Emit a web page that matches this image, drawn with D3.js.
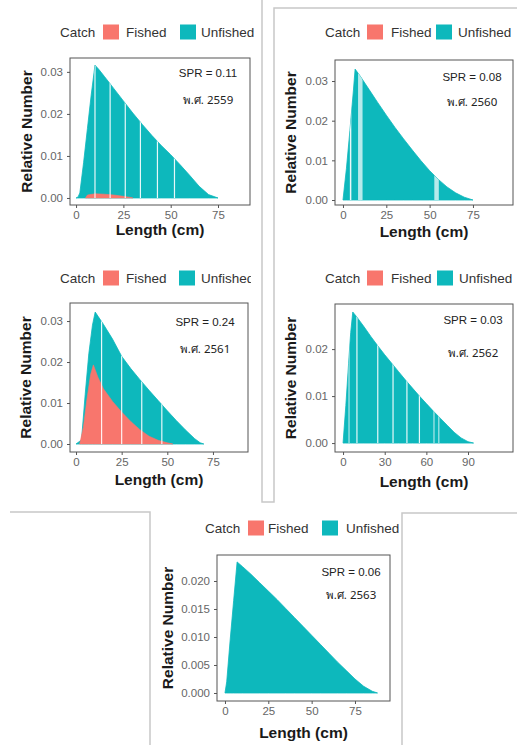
<!DOCTYPE html>
<html>
<head>
<meta charset="utf-8">
<script src="https://cdn.jsdelivr.net/npm/d3@7"></script>
<style>
  body { margin: 0; background: #fff; }
  svg { font-family: "Liberation Sans", Arial, sans-serif; }
</style>
</head>
<body>
<svg id="chart" width="517" height="745"></svg>
<script>
// values: [length (cm), relative number]
const unfished2559 = [[0,0],[1,0.0002],[2,0.0012],[4,0.0085],[6,0.0165],[8,0.0245],[10,0.0316],[12,0.0306],[15,0.0289],[20,0.026],[25,0.0231],[30,0.0202],[35,0.0175],[40,0.0149],[45,0.0125],[50,0.0103],[55,0.0079],[60,0.0054],[65,0.0028],[70,0.0008],[75,0]]
const fished2559 = [[5,0],[6,0.0007],[10,0.001],[15,0.0009],[20,0.0007],[25,0.0004],[28,0.0002],[30,0]]

const unfished2560 = [[0,0],[2,0.008],[4,0.0175],[6,0.0275],[7,0.033],[10,0.0312],[15,0.0279],[20,0.0246],[25,0.0214],[30,0.0183],[35,0.0154],[40,0.0126],[45,0.0099],[50,0.0074],[55,0.0052],[60,0.0033],[65,0.0018],[70,0.0007],[75,0]]
const fished2560 = []

const unfished2561 = [[0,0],[3,0.001],[5,0.012],[7,0.022],[9,0.029],[10.5,0.0322],[12,0.0312],[15,0.0292],[20,0.0256],[25,0.0214],[30,0.0184],[35,0.0157],[40,0.0131],[45,0.0106],[50,0.0081],[55,0.0057],[60,0.0034],[65,0.0013],[68,0.0003],[70,0]]
const fished2561 = [[2,0],[4,0.004],[6,0.011],[8,0.017],[9.5,0.0193],[12,0.0163],[15,0.0135],[20,0.0104],[25,0.0078],[30,0.0055],[35,0.0035],[40,0.0019],[45,0.0009],[50,0.0003],[53,0]]

const unfished2562 = [[0,0],[2,0.008],[4,0.017],[5.5,0.0235],[7,0.0279],[10,0.0268],[15,0.0248],[20,0.0227],[25,0.0207],[30,0.0188],[35,0.017],[40,0.0152],[45,0.0134],[50,0.0117],[55,0.01],[60,0.0084],[65,0.0068],[70,0.0053],[75,0.0038],[80,0.0023],[85,0.0011],[90,0.0003],[94,0]]
const fished2562 = []

const unfished2563 = [[0,0],[1,0.002],[3,0.0095],[5,0.0165],[7,0.0234],[10,0.0226],[15,0.0212],[20,0.0197],[25,0.0182],[30,0.0167],[35,0.0151],[40,0.0135],[45,0.0119],[50,0.0103],[55,0.0087],[60,0.0071],[65,0.0055],[70,0.004],[75,0.0025],[80,0.0012],[85,0.0003],[88,0]]
const fished2563 = []

const years = ["2559", "2560", "2561", "2562", "2563"]
const sprValues = ["0.11", "0.08", "0.24", "0.03", "0.06"]
const legendLabels = ["Fished", "Unfished"]

const xTicks = [[0,25,50,75],[0,25,50,75],[0,25,50,75],[0,30,60,90],[0,25,50,75]]
const yTicks = [[0,0.01,0.02,0.03],[0,0.01,0.02,0.03],[0,0.01,0.02,0.03],[0,0.01,0.02],[0,0.005,0.01,0.015,0.02]]

const series = [
  [unfished2559, fished2559],
  [unfished2560, fished2560],
  [unfished2561, fished2561],
  [unfished2562, fished2562],
  [unfished2563, fished2563]
]

const RED = "#F8766D", TEAL = "#0DB8BC"

// layout of each little ggplot image in the collage
const layout = [
  {left:70, right:250, top:58, bottom:205, xd:[-3.2,91.9], yd:[-0.00167,0.0333], fmt:".2f",
   leg:[60,103,126,180,201], legY:32, clipR:256, ytX:32, xtY:235, sprX:208, sprY:[77,104],
   seams:[[10,1.2,0.9],[18,1.2,0.9],[26,1.2,0.9],[34,1.2,0.9],[43,1.2,0.9],[52,1.2,0.9]]},
  {left:335, right:513, top:60, bottom:205, xd:[-4.6,98.1], yd:[-0.00126,0.0353], fmt:".2f",
   leg:[325,367,391,436,458], legY:32, clipR:517, ytX:296, xtY:237, sprX:472, sprY:[81,106],
   seams:[[4.4,1.5,0.9],[10,4.5,0.7],[54,4.5,0.7]]},
  {left:70, right:248, top:303, bottom:452, xd:[-3.3,94.2], yd:[-0.00195,0.0344], fmt:".2f",
   leg:[60,103,126,179,201], legY:278, clipR:251, ytX:31, xtY:485, sprX:205, sprY:[326,353],
   seams:[[14,1.2,0.9],[25,1.2,0.9],[36,1.2,0.9],[47,1.2,0.9]]},
  {left:335, right:513, top:304, bottom:452, xd:[-5.8,122.4], yd:[-0.0019,0.0296], fmt:".2f",
   leg:[325,367,391,437,459], legY:278, clipR:517, ytX:296, xtY:487, sprX:473, sprY:[324,357],
   seams:[[4.3,1,0.8],[10,1.2,0.9],[25,1.2,0.9],[36,1.2,0.9],[46,1.2,0.9],[55,1.2,0.9],[65.5,1,0.8],[69,1,0.8]]},
  {left:217, right:390, top:555, bottom:701, xd:[-4.6,95.2], yd:[-0.00143,0.02464], fmt:".3f",
   leg:[205,248,268,322,346], legY:528, clipR:400, ytX:173, xtY:738, sprX:351, sprY:[576,599],
   seams:[]}
]

const svg = d3.select("#chart")
const defs = svg.append("defs")

// frame lines of the collage
const frame = [
  [[262,0],[262,502],[274,502],[274,8],[517,8]],
  [[10,512],[150,512],[150,745]],
  [[517,513],[402,513],[402,745]]
]
svg.selectAll("path.frame").data(frame).enter().append("path")
  .attr("class", "frame")
  .attr("d", d => d3.line()(d))
  .attr("fill", "none")
  .attr("stroke", "#c8c8c8")
  .attr("stroke-width", 1.5)

layout.forEach((p, i) => {
  const g = svg.append("g")
  const x = d3.scaleLinear().domain(p.xd).range([p.left, p.right])
  const y = d3.scaleLinear().domain(p.yd).range([p.bottom, p.top])
  const area = d3.area().x(d => x(d[0])).y0(y(0)).y1(d => y(d[1]))
  const [unf, fis] = series[i]

  // clip for seams: the unfished area
  defs.append("clipPath").attr("id", "area" + i)
    .append("path").attr("d", area(unf))

  g.append("path").attr("d", area(unf))
    .attr("fill", TEAL).attr("stroke", TEAL).attr("stroke-width", 0.8)
  if (fis.length)
    g.append("path").attr("d", area(fis))
      .attr("fill", RED).attr("stroke", RED).attr("stroke-width", 0.6)

  g.append("g").attr("clip-path", `url(#area${i})`)
    .selectAll("line").data(p.seams).enter().append("line")
    .attr("x1", d => x(d[0])).attr("x2", d => x(d[0]))
    .attr("y1", p.top).attr("y2", p.bottom)
    .attr("stroke", "#fff")
    .attr("stroke-width", d => d[1])
    .attr("stroke-opacity", d => d[2])

  // panel border
  g.append("rect")
    .attr("x", p.left).attr("y", p.top)
    .attr("width", p.right - p.left).attr("height", p.bottom - p.top)
    .attr("fill", "none").attr("stroke", "#555").attr("stroke-width", 1)

  // axes
  const ya = g.append("g").attr("transform", `translate(${p.left},0)`)
    .call(d3.axisLeft(y).tickValues(yTicks[i]).tickFormat(d3.format(p.fmt)).tickSize(3).tickPadding(4))
  const xa = g.append("g").attr("transform", `translate(0,${p.bottom})`)
    .call(d3.axisBottom(x).tickValues(xTicks[i]).tickFormat(d3.format("d")).tickSize(3).tickPadding(3))
  for (const a of [ya, xa]) {
    a.select(".domain").remove()
    a.selectAll(".tick line").attr("stroke", "#555")
    a.selectAll("text").attr("fill", "#666").attr("font-size", 11.5)
      .attr("font-family", "'Liberation Sans', Arial, sans-serif")
  }

  // axis titles
  g.append("text")
    .attr("transform", `translate(${p.ytX},${(p.top + p.bottom) / 2}) rotate(-90)`)
    .attr("text-anchor", "middle")
    .attr("font-size", 15.5).attr("font-weight", "bold").attr("fill", "#1a1a1a")
    .text("Relative Number")
  g.append("text")
    .attr("x", (p.left + p.right) / 2).attr("y", p.xtY)
    .attr("text-anchor", "middle")
    .attr("font-size", 15.5).attr("font-weight", "bold").attr("fill", "#1a1a1a")
    .text("Length (cm)")

  // annotations
  g.append("text").attr("x", p.sprX).attr("y", p.sprY[0])
    .attr("text-anchor", "middle").attr("font-size", 11.5).attr("fill", "#222")
    .text("SPR = " + sprValues[i])
  g.append("text").attr("x", p.sprX).attr("y", p.sprY[1])
    .attr("text-anchor", "middle").attr("font-size", 11.5).attr("fill", "#222")
    .attr("font-family", "'Noto Sans', 'DejaVu Sans', sans-serif")
    .text("พ.ศ. " + years[i])

  // legend (cut at the right edge of each image)
  defs.append("clipPath").attr("id", "leg" + i)
    .append("rect").attr("x", 0).attr("y", p.legY - 20)
    .attr("width", p.clipR).attr("height", 40)
  const lg = g.append("g").attr("clip-path", `url(#leg${i})`)
  lg.append("text").attr("x", p.leg[0]).attr("y", p.legY + 5)
    .attr("font-size", 13.5).attr("fill", "#333").text("Catch")
  lg.selectAll("rect").data(legendLabels).enter().append("rect")
    .attr("x", (d, k) => p.leg[1 + 2 * k]).attr("y", p.legY - 7.5)
    .attr("width", 16).attr("height", 15)
    .attr("fill", (d, k) => k === 0 ? RED : TEAL)
  lg.selectAll("text.lab").data(legendLabels).enter().append("text")
    .attr("class", "lab")
    .attr("x", (d, k) => p.leg[2 + 2 * k]).attr("y", p.legY + 5)
    .attr("font-size", 13.5).attr("fill", "#333").text(d => d)
})
</script>
</body>
</html>
